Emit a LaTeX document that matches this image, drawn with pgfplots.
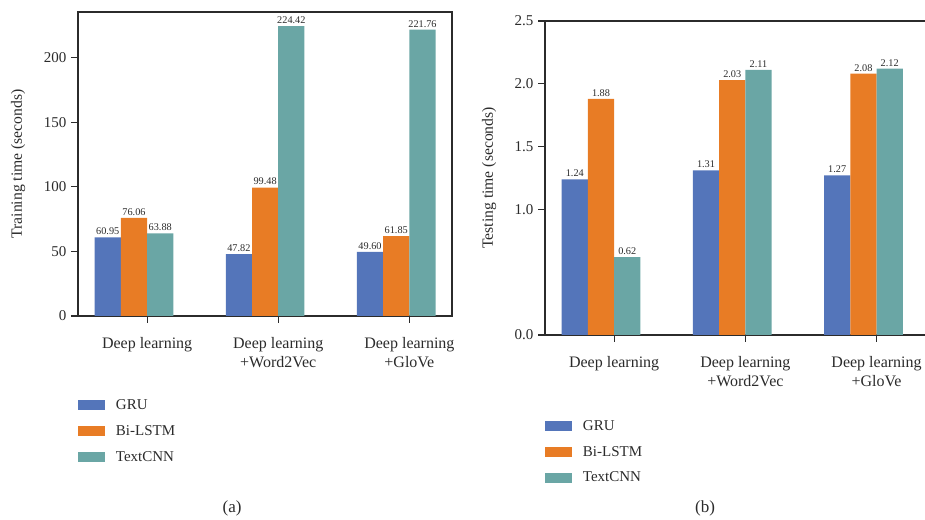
\documentclass[border=0pt]{standalone}
\usepackage{fontspec}
\setmainfont{Liberation Serif}
\usepackage{pgfplots}
\pgfplotsset{compat=1.18}
\definecolor{cgru}{HTML}{5475BA}
\definecolor{clstm}{HTML}{E87C25}
\definecolor{ccnn}{HTML}{6AA6A5}
\definecolor{axc}{HTML}{2B2B2B}
\pgfplotsset{
  mystyle/.style={
    scale only axis,
    anchor=south west,
    ybar, bar width=0.2,
    clip=false,
    axis line style={axc, line width=0.9pt},
    tick style={axc, line width=0.9pt},
    major tick length=5.25pt,
    tick align=outside,
    xtick pos=bottom, ytick pos=left,
    xtick={0,1,2},
    xticklabels={Deep learning, {Deep learning\\+Word2Vec}, {Deep learning\\+GloVe}},
    xticklabel style={align=center, font=\fontsize{12}{14}\selectfont, text=axc, yshift=-7.5pt},
    yticklabel style={font=\fontsize{11.25}{13}\selectfont, text=axc},
    /pgf/number format/assume math mode=true,
    ylabel style={font=\fontsize{11.75}{14}\selectfont, text=axc, anchor=center},
    nodes near coords={\pgfmathprintnumber[fixed,fixed zerofill,precision=2]{\pgfplotspointmeta}},
    every node near coord/.append style={font=\fontsize{7.7}{9}\selectfont, text=axc, inner sep=1.6pt},
    legend cell align=left,
    legend image code/.code={\fill[##1,draw=none] (0pt,-3.75pt) rectangle (20.25pt,3.75pt);},
    legend style={anchor=north west, draw=none, fill=none, inner sep=0pt,
      font=\fontsize{11.25}{13}\selectfont, text=axc, row sep=6.5pt,
      /tikz/every odd column/.append style={column sep=6pt}},
  }
}
\begin{document}
\begin{tikzpicture}
\path[use as bounding box, clip] (0pt,0pt) rectangle (693.75pt,390pt);
% (a) Training time
\begin{axis}[mystyle,
  at={(58.5pt,153pt)}, width=280.5pt, height=228pt,
  xmin=-0.527, xmax=2.325, ymin=0, ymax=235.4,
  ytick={0,50,100,150,200},
  ylabel={Training time (seconds)},
  ylabel style={at={(axis description cs:-0.16,0.5)}},
  legend style={at={(axis description cs:0,-0.265)}},
]
\addplot[fill=cgru, draw=none, bar shift=-0.3] coordinates {(0,60.95) (1,47.82) (2,49.60)};
\addplot[fill=clstm, draw=none, bar shift=-0.1] coordinates {(0,76.06) (1,99.48) (2,61.85)};
\addplot[fill=ccnn, draw=none, bar shift=0.1] coordinates {(0,63.88) (1,224.42) (2,221.76)};
\legend{GRU, Bi-LSTM, TextCNN}
\node[font=\fontsize{12.75}{15}\selectfont, text=axc] at (axis description cs:0.412,-0.632) {(a)};
\end{axis}
% (b) Testing time
\begin{axis}[mystyle,
  at={(408.75pt,138.75pt)}, width=287.25pt, height=235.5pt,
  xmin=-0.527, xmax=2.392, ymin=0, ymax=2.5,
  ytick={0,1,1.5,2,2.5},
  yticklabel style={/pgf/number format/.cd, fixed, fixed zerofill, precision=1},
  ylabel={Testing time (seconds)},
  ylabel style={at={(axis description cs:-0.146,0.5)}},
  legend style={at={(axis description cs:0,-0.262)}},
]
\addplot[fill=cgru, draw=none, bar shift=-0.3] coordinates {(0,1.24) (1,1.31) (2,1.27)};
\addplot[fill=clstm, draw=none, bar shift=-0.1] coordinates {(0,1.88) (1,2.03) (2,2.08)};
\addplot[fill=ccnn, draw=none, bar shift=0.1] coordinates {(0,0.62) (1,2.11) (2,2.12)};
\legend{GRU, Bi-LSTM, TextCNN}
\node[font=\fontsize{12.75}{15}\selectfont, text=axc] at (axis description cs:0.418,-0.551) {(b)};
\end{axis}
\end{tikzpicture}
\end{document}
